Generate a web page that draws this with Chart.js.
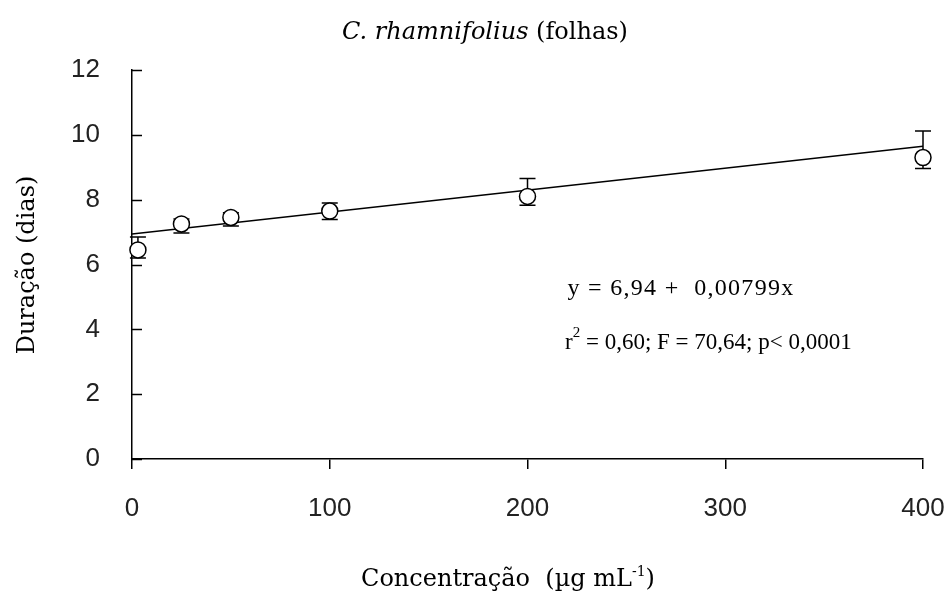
<!DOCTYPE html>
<html>
<head>
<meta charset="utf-8">
<script src="https://cdn.jsdelivr.net/npm/chart.js@4"></script>
<style>
  html, body { margin: 0; padding: 0; background: #fff; }
  #wrap { width: 949px; height: 595px; }
</style>
</head>
<body>
<div id="wrap"><canvas id="chart" width="949" height="595"></canvas></div>
<script>
// concentration (ug/mL) and mean duration (days)
const conc = [3, 25, 50, 100, 200, 400];
const duracao = [6.45, 7.25, 7.45, 7.65, 8.1, 9.3];
// error bar lengths
const errUp = [0.4, 0.15, 0.15, 0.25, 0.55, 0.82];
const errDown = [0.25, 0.28, 0.26, 0.26, 0.27, 0.34];
// fitted line as drawn
const fitX = [0, 400];
const fitY = [6.94, 9.65];
const xTicks = [0, 100, 200, 300, 400];
const yTicks = [0, 2, 4, 6, 8, 10, 12];

const SERIF = '"DejaVu Serif", serif';
const TIMES = '"Liberation Serif", "Times New Roman", serif';

// error bars under the markers
const errorBars = {
  id: 'errorBars',
  beforeDatasetsDraw(chart) {
    const { ctx, scales: { x, y } } = chart;
    ctx.save();
    ctx.strokeStyle = '#000';
    ctx.lineWidth = 1.5;
    conc.forEach((c, i) => {
      const px = x.getPixelForValue(c);
      const top = y.getPixelForValue(duracao[i] + errUp[i]);
      const bot = y.getPixelForValue(duracao[i] - errDown[i]);
      ctx.beginPath();
      ctx.moveTo(px, top); ctx.lineTo(px, bot);
      ctx.moveTo(px - 8, top); ctx.lineTo(px + 8, top);
      ctx.moveTo(px - 8, bot); ctx.lineTo(px + 8, bot);
      ctx.stroke();
    });
    ctx.restore();
  }
};

// inward y ticks, titles and equation text
const decorations = {
  id: 'decorations',
  afterDraw(chart) {
    const { ctx, scales: { x, y } } = chart;
    ctx.save();
    ctx.strokeStyle = '#000';
    ctx.lineWidth = 1.5;
    yTicks.forEach(v => {
      const py = Math.round(y.getPixelForValue(v)) + 0.5;
      ctx.beginPath();
      ctx.moveTo(x.left, py); ctx.lineTo(x.left + 10, py);
      ctx.stroke();
    });

    ctx.fillStyle = '#000';
    ctx.textBaseline = 'middle';

    // title: italic species name + normal part
    const t1 = 'C. rhamnifolius', t2 = ' (folhas)';
    ctx.font = 'italic 24px ' + SERIF;
    const w1 = ctx.measureText(t1).width;
    ctx.font = '24px ' + SERIF;
    const w2 = ctx.measureText(t2).width;
    let tx = 485 - (w1 + w2) / 2;
    ctx.font = 'italic 24px ' + SERIF;
    ctx.textAlign = 'left';
    ctx.fillText(t1, tx, 33);
    ctx.font = '24px ' + SERIF;
    ctx.fillText(t2, tx + w1, 33);

    // x axis title with superscript
    const a = 'Concentração  (µg mL', sup = '-1', b = ')';
    ctx.font = '24px ' + SERIF;
    const wa = ctx.measureText(a).width, wb = ctx.measureText(b).width;
    ctx.font = '14px ' + SERIF;
    const ws = ctx.measureText(sup).width;
    let ax = 508 - (wa + ws + wb) / 2;
    ctx.font = '24px ' + SERIF;
    ctx.fillText(a, ax, 580);
    ctx.font = '14px ' + SERIF;
    ctx.fillText(sup, ax + wa, 572);
    ctx.font = '24px ' + SERIF;
    ctx.fillText(b, ax + wa + ws, 580);

    // y axis title
    ctx.save();
    ctx.translate(28, 265);
    ctx.rotate(-Math.PI / 2);
    ctx.textAlign = 'center';
    ctx.font = '24px ' + SERIF;
    ctx.fillText('Duração (dias)', 0, 0);
    ctx.restore();

    // regression equation
    ctx.font = '24px ' + TIMES;
    ctx.letterSpacing = '1.3px';
    ctx.textAlign = 'center';
    ctx.fillText('y = 6,94 +  0,00799x', 681, 289);
    ctx.letterSpacing = '0px';
    ctx.textAlign = 'left';
    ctx.font = '23px ' + TIMES;
    let ex = 565;
    ctx.fillText('r', ex, 343);
    ex += ctx.measureText('r').width;
    ctx.font = '15px ' + TIMES;
    ctx.fillText('2', ex, 333);
    ex += ctx.measureText('2').width;
    ctx.font = '23px ' + TIMES;
    ctx.fillText(' = 0,60; F = 70,64; p< 0,0001', ex, 343);
    ctx.restore();
  }
};

new Chart(document.getElementById('chart'), {
  type: 'scatter',
  data: {
    datasets: [
      {
        data: conc.map((c, i) => ({ x: c, y: duracao[i] })),
        pointRadius: 8,
        pointBackgroundColor: '#fff',
        pointBorderColor: '#000',
        pointBorderWidth: 1.5,
        clip: false
      },
      {
        type: 'line',
        data: fitX.map((c, i) => ({ x: c, y: fitY[i] })),
        borderColor: '#000',
        borderWidth: 1.5,
        pointRadius: 0,
        fill: false
      }
    ]
  },
  options: {
    responsive: false,
    animation: false,
    layout: { padding: { top: 70, right: 26, left: 0, bottom: 0 } },
    plugins: {
      legend: { display: false },
      title: { display: false },
      tooltip: { enabled: false }
    },
    scales: {
      x: {
        type: 'linear',
        min: 0,
        max: 400,
        afterFit: s => { s.height = 136; s.paddingRight = 0; s.paddingLeft = 0; },
        afterBuildTicks: s => { s.ticks = xTicks.map(v => ({ value: v })); },
        grid: { drawOnChartArea: false, tickLength: 10, color: '#000', lineWidth: 1.5 },
        border: { color: '#000', width: 1.5 },
        ticks: {
          padding: 24,
          color: '#222',
          font: { family: '"Liberation Sans", Arial, sans-serif', size: 26 },
          maxRotation: 0
        }
      },
      y: {
        min: 0,
        max: 12,
        afterFit: s => { s.width = 132; },
        afterBuildTicks: s => { s.ticks = yTicks.map(v => ({ value: v })); },
        grid: { drawOnChartArea: false, drawTicks: false },
        border: { color: '#000', width: 1.5 },
        ticks: {
          padding: 32,
          color: '#222',
          font: { family: '"Liberation Sans", Arial, sans-serif', size: 26 }
        }
      }
    }
  },
  plugins: [errorBars, decorations]
});
</script>
</body>
</html>
